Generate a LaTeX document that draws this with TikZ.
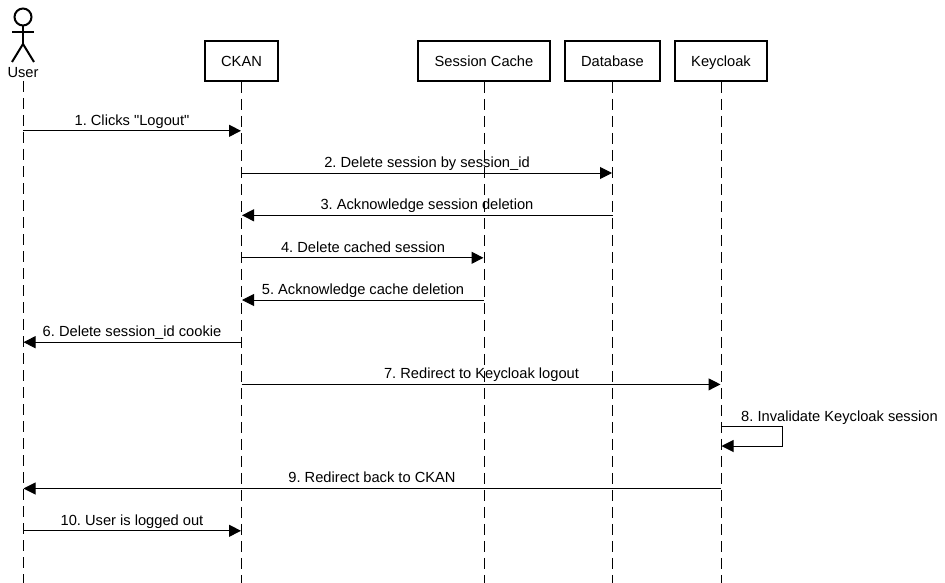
\documentclass[tikz,border=0pt]{standalone}
\usepackage{fontspec}
\setmainfont[Ligatures=TeXOff]{Liberation Sans}
\usetikzlibrary{arrows.meta}
\tikzset{
 x=1pt,y=-1pt,
 box/.style={draw,line width=2.2pt,minimum height=40pt,inner sep=0pt,text height=12pt,text depth=1pt,font=\frenchspacing\fontsize{14.67}{17}\selectfont},
 life/.style={draw,line width=1pt,dash pattern=on 11pt off 6pt},
 msg/.style={line width=1pt,shorten >=0.5pt,-{Triangle[length=12pt,width=12pt]}},
 lbl/.style={font=\frenchspacing\fontsize{14.67}{17}\selectfont,inner sep=0pt,anchor=base},
 actorline/.style={line width=2pt}
}
\begin{document}
\begin{tikzpicture}
\useasboundingbox (0,0) rectangle (945,583);
\node[box,minimum width=73pt] (ckan) at (241.5,60.8) {CKAN};
\node[box,minimum width=131.5pt] (cache) at (484,60.8) {Session Cache};
\node[box,minimum width=95pt] (db) at (612.5,60.8) {Database};
\node[box,minimum width=91.5pt] (kc) at (721,60.8) {Keycloak};
\node[lbl] (user) at (23,77.6) {User};
\coordinate (userTop) at (23,81);
\coordinate (userEnd) at (23,583);
\coordinate (ckanEnd) at (241.5,583);
\coordinate (cacheEnd) at (484,583);
\coordinate (dbEnd) at (612.5,583);
\coordinate (kcEnd) at (721,583);
% actor
\draw[actorline] (23,17) circle (8.5);
\draw[actorline] (23,25.5) -- (23,44);
\draw[actorline] (12,32.5) -- (34,32.5);
\draw[actorline] (12,62) -- (23,44) -- (34,62);
% lifelines
\draw[life] (userTop) -- (userEnd);
\draw[life] (ckan.south) -- (ckanEnd);
\draw[life] (cache.south) -- (cacheEnd);
\draw[life] (db.south) -- (dbEnd);
\draw[life] (kc.south) -- (kcEnd);
% messages
\newcommand\msgline[6]{%
 \coordinate (a) at (#1,#3); \coordinate (b) at (#2,#3);
 \draw[msg] (a) -- (b);
 \node[lbl] at (#4,#6) {#5};}
\msgline{23}{241.5}{130.8}{132}{1. Clicks "Logout"}{125.6}
\msgline{241.5}{612.5}{173}{427}{2. Delete session by session\_id}{167.6}
\msgline{612.5}{241.5}{215.3}{427}{3. Acknowledge session deletion}{209.3}
\msgline{241.5}{484}{257.8}{363}{4. Delete cached session}{252.3}
\msgline{484}{241.5}{300}{363}{5. Acknowledge cache deletion}{294.3}
\msgline{241.5}{23}{342.2}{132}{6. Delete session\_id cookie}{336.3}
\msgline{241.5}{721}{384.4}{481.5}{7. Redirect to Keycloak logout}{378.3}
\draw[msg] (721,426.8) -- (782,426.8) -- (782,446) -- (721,446);
\node[lbl] at (839.5,421) {8. Invalidate Keycloak session};
\msgline{721}{23}{488.5}{372}{9. Redirect back to CKAN}{482.3}
\msgline{23}{241.5}{530.8}{132}{10. User is logged out}{525.3}
\end{tikzpicture}
\end{document}
